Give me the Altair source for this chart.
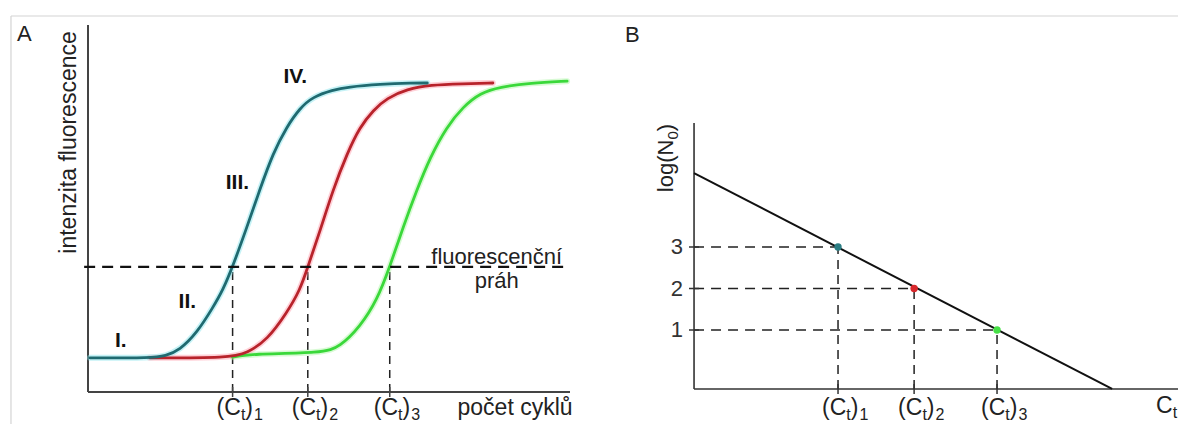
import altair as alt
import pandas as pd

FONT = "Liberation Sans"

# ---------------- Panel A: amplification curves (cycle number, fluorescence intensity) -------------
teal_x = [0.2, 6.7, 8.0, 9.5, 11.3, 13.0, 14.0, 15.0, 16.5, 17.8, 19.2, 20.6, 22.0, 23.3, 25.4, 26.9, 30.3, 33.7, 35.2]
teal_y = [9.3, 9.3, 9.8, 11.4, 16.1, 23.2, 27.8, 34.1, 45.0, 55.0, 65.1, 72.2, 77.4, 80.4, 82.3, 83.1, 83.9, 84.2, 84.2]
red_x = [6.4, 14.7, 16.5, 18.6, 20.6, 22.0, 22.8, 24.1, 25.4, 26.9, 28.2, 29.6, 31.0, 33.1, 35.5, 38.9, 42.0]
red_y = [9.3, 9.3, 10.6, 14.2, 21.5, 27.8, 34.1, 44.1, 55.0, 65.1, 72.2, 76.8, 80.1, 82.5, 83.7, 84.0, 84.2]
green_x = [15.0, 16.8, 24.4, 26.1, 28.2, 30.0, 31.3, 32.7, 34.1, 35.5, 37.2, 38.9, 40.7, 42.7, 45.9, 49.7]
green_y = [9.5, 10.4, 10.6, 12.3, 17.7, 25.1, 34.1, 45.0, 55.0, 64.0, 72.2, 77.7, 81.5, 83.1, 84.2, 84.7]

threshold = 34.1
ct_values = [15.0, 22.8, 31.3]
ct_subs = ["1", "2", "3"]

phase_labels = ["I.", "II.", "III.", "IV."]
phase_x = [3.4, 10.3, 15.5, 21.5]
phase_y = [13.9, 24.5, 56.9, 85.8]

# ---------------- Panel B: standard curve log(N0) vs Ct -------------
log_n0 = [3, 2, 1]
fit_x = [0.24, 43.1]
fit_y = [4.78, -0.42]

teal_core, teal_halo = "#1f6a70", "#7fe3ec"
red_core, red_halo = "#b8232b", "#ff9aa8"
green_core, green_halo = "#3ad83a", "#a8f5a0"
point_colors = ["#2b7d83", "#d8282c", "#46e046"]

# scales (explicit pixel ranges place the two panels side by side in one layered chart)
SAX = alt.Scale(domain=[0, 50], range=[80, 562], nice=False, zero=False)
SAY = alt.Scale(domain=[0, 100], range=[384, 17], nice=False, zero=False)
SBX = alt.Scale(domain=[0, 50], range=[683.7, 1171.45], nice=False, zero=False)
SBY = alt.Scale(domain=[0, 5], range=[363.5, 156], nice=False, zero=False)


def enc(sx, sy, x2=False, y2=False, extra=None):
    e = dict(x=alt.X("x:Q", scale=sx, axis=None), y=alt.Y("y:Q", scale=sy, axis=None))
    if x2:
        e["x2"] = alt.X2("x2:Q")
    if y2:
        e["y2"] = alt.Y2("y2:Q")
    if extra:
        e.update(extra)
    return e


def txt(df, sx, sy, size, text=None, field=None, **kw):
    extra = {"text": alt.Text(f"{field}:N")} if field else {"text": alt.value(text)}
    return alt.Chart(df).mark_text(font=FONT, fontSize=size, **kw).encode(**enc(sx, sy, extra=extra))


layers = []

# light frame
frame_h = pd.DataFrame({"x": [-7.99], "x2": [113.9], "y": [102.45]})
frame_v = pd.DataFrame({"x": [-7.99], "y": [102.45], "y2": [-10.9]})
layers.append(alt.Chart(frame_h).mark_rule(color="#d4d4d4", strokeWidth=1.2).encode(**enc(SAX, SAY, x2=True)))
layers.append(alt.Chart(frame_v).mark_rule(color="#d4d4d4", strokeWidth=1.2).encode(**enc(SAX, SAY, y2=True)))

# ---- Panel A ----
axA_y = pd.DataFrame({"x": [0], "y": [0], "y2": [100]})
axA_x = pd.DataFrame({"x": [0], "x2": [50], "y": [0]})
layers.append(alt.Chart(axA_y).mark_rule(color="#444444", strokeWidth=2).encode(**enc(SAX, SAY, y2=True)))
layers.append(alt.Chart(axA_x).mark_rule(color="#444444", strokeWidth=2).encode(**enc(SAX, SAY, x2=True)))

ctA = pd.DataFrame({"x": ct_values, "y": [0.0] * 3, "y2": [threshold] * 3, "sub": ct_subs})
layers.append(alt.Chart(ctA).mark_rule(color="#222222", strokeWidth=1.5, strokeDash=[8, 6]).encode(**enc(SAX, SAY, y2=True)))
ticksA = pd.DataFrame({"x": ct_values, "y": [-1.36] * 3, "y2": [1.36] * 3})
layers.append(alt.Chart(ticksA).mark_rule(color="#444444", strokeWidth=1.5).encode(**enc(SAX, SAY, y2=True)))

curves = [(green_x, green_y, green_core, green_halo),
          (red_x, red_y, red_core, red_halo),
          (teal_x, teal_y, teal_core, teal_halo)]
for xs, ys, core, halo in curves:
    df = pd.DataFrame({"x": xs, "y": ys})
    layers.append(alt.Chart(df).mark_line(color=halo, strokeWidth=6, opacity=0.45, interpolate="basis",
                                          strokeCap="round").encode(**enc(SAX, SAY)))
for xs, ys, core, halo in curves:
    df = pd.DataFrame({"x": xs, "y": ys})
    layers.append(alt.Chart(df).mark_line(color=core, strokeWidth=2.8, interpolate="basis",
                                          strokeCap="round").encode(**enc(SAX, SAY)))

thr = pd.DataFrame({"x": [-0.4], "x2": [49.6], "y": [threshold]})
layers.append(alt.Chart(thr).mark_rule(color="#111111", strokeWidth=2.2, strokeDash=[11, 7]).encode(**enc(SAX, SAY, x2=True)))

# phase labels
ph = pd.DataFrame({"x": phase_x, "y": phase_y, "t": phase_labels})
layers.append(txt(ph, SAX, SAY, 21, field="t", fontWeight="bold", align="center", baseline="middle", color="#111111"))

# Ct tick labels (composite for subscripts)
labA = pd.DataFrame({"x": ct_values, "y": [-6.27] * 3, "sub": ct_subs})
layers.append(txt(labA, SAX, SAY, 23, text="(C", align="left", baseline="alphabetic", dx=-16, color="#222222"))
layers.append(txt(labA, SAX, SAY, 16, text="t", align="left", baseline="alphabetic", dx=8.3, dy=5, color="#222222"))
layers.append(txt(labA, SAX, SAY, 23, text=")", align="left", baseline="alphabetic", dx=12.7, color="#222222"))
layers.append(txt(labA, SAX, SAY, 16, field="sub", align="left", baseline="alphabetic", dx=21.5, dy=5, color="#222222"))

one = lambda x, y: pd.DataFrame({"x": [x], "y": [y]})
layers.append(txt(one(44.3, -6.27), SAX, SAY, 23, text="počet cyklů", align="center", baseline="alphabetic", color="#222222"))
layers.append(txt(one(42.4, 34.9), SAX, SAY, 22, text="fluorescenční", align="center", baseline="alphabetic", color="#222222"))
layers.append(txt(one(42.4, 28.3), SAX, SAY, 22, text="práh", align="center", baseline="alphabetic", color="#222222"))
layers.append(txt(one(-1.24, 68.0), SAX, SAY, 23, text="intenzita fluorescence", align="center", baseline="alphabetic",
                  angle=270, color="#222222"))
layers.append(txt(one(-7.37, 95.6), SAX, SAY, 22, text="A", align="left", baseline="alphabetic", color="#222222"))

# ---- Panel B ----
axB_y = pd.DataFrame({"x": [0.24], "y": [-0.42], "y2": [5.99]})
axB_x = pd.DataFrame({"x": [0.24], "x2": [50.4], "y": [-0.42]})
layers.append(alt.Chart(axB_y).mark_rule(color="#333333", strokeWidth=1.6).encode(**enc(SBX, SBY, y2=True)))
layers.append(alt.Chart(axB_x).mark_rule(color="#333333", strokeWidth=1.6).encode(**enc(SBX, SBY, x2=True)))

hB = pd.DataFrame({"x": [0.24] * 3, "x2": ct_values, "y": log_n0})
layers.append(alt.Chart(hB).mark_rule(color="#222222", strokeWidth=1.5, strokeDash=[10, 7]).encode(**enc(SBX, SBY, x2=True)))
vB = pd.DataFrame({"x": ct_values, "y": [-0.42] * 3, "y2": log_n0})
layers.append(alt.Chart(vB).mark_rule(color="#222222", strokeWidth=1.5, strokeDash=[9, 6]).encode(**enc(SBX, SBY, y2=True)))

tickBy = pd.DataFrame({"x": [-0.28] * 3, "x2": [0.75] * 3, "y": log_n0})
layers.append(alt.Chart(tickBy).mark_rule(color="#333333", strokeWidth=1.5).encode(**enc(SBX, SBY, x2=True)))
tickBx = pd.DataFrame({"x": ct_values, "y": [-0.30] * 3, "y2": [-0.54] * 3})
layers.append(alt.Chart(tickBx).mark_rule(color="#333333", strokeWidth=1.5).encode(**enc(SBX, SBY, y2=True)))

fit = pd.DataFrame({"x": fit_x, "y": fit_y})
layers.append(alt.Chart(fit).mark_line(color="#111111", strokeWidth=2).encode(**enc(SBX, SBY)))

pts = pd.DataFrame({"x": ct_values, "y": log_n0, "c": point_colors})
layers.append(alt.Chart(pts).mark_circle(size=55, opacity=1).encode(
    **enc(SBX, SBY, extra={"color": alt.Color("c:N", scale=None, legend=None)})))

yl = pd.DataFrame({"x": [-0.89] * 3, "y": log_n0, "t": [str(v) for v in log_n0]})
layers.append(txt(yl, SBX, SBY, 22, field="t", align="right", baseline="middle", color="#333333"))

labB = pd.DataFrame({"x": ct_values, "y": [-1.05] * 3, "sub": ct_subs})
layers.append(txt(labB, SBX, SBY, 23, text="(C", align="left", baseline="alphabetic", dx=-16, color="#222222"))
layers.append(txt(labB, SBX, SBY, 16, text="t", align="left", baseline="alphabetic", dx=8.3, dy=5, color="#222222"))
layers.append(txt(labB, SBX, SBY, 23, text=")", align="left", baseline="alphabetic", dx=12.7, color="#222222"))
layers.append(txt(labB, SBX, SBY, 16, field="sub", align="left", baseline="alphabetic", dx=21.5, dy=5, color="#222222"))

layers.append(txt(one(47.6, -1.0), SBX, SBY, 23, text="C", align="left", baseline="alphabetic", color="#222222"))
layers.append(txt(one(47.6, -1.0), SBX, SBY, 16, text="t", align="left", baseline="alphabetic", dx=16.6, dy=5, color="#222222"))

layers.append(txt(one(-1.92, 5.14), SBX, SBY, 22, text="log(N", align="left", baseline="alphabetic", angle=270, dx=-34, color="#222222"))
layers.append(txt(one(-1.92, 5.14), SBX, SBY, 15, text="0", align="left", baseline="alphabetic", angle=270, dx=18.6, dy=5, color="#222222"))
layers.append(txt(one(-1.92, 5.14), SBX, SBY, 22, text=")", align="left", baseline="alphabetic", angle=270, dx=26.9, color="#222222"))
layers.append(txt(one(-6.84, 7.94), SBX, SBY, 22, text="B", align="left", baseline="alphabetic", color="#222222"))

chart = alt.layer(*layers).resolve_scale(x="independent", y="independent", color="independent").properties(
    width=1170, height=416, autosize=alt.AutoSizeParams(type="none"), padding=0, background="white"
).configure_view(stroke=None)

chart.save("out.html", embed_options={"renderer": "svg", "actions": False})
